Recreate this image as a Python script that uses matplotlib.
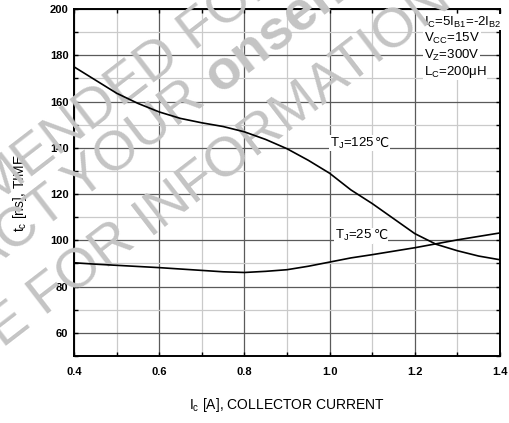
import matplotlib
matplotlib.use("Agg")
import matplotlib.pyplot as plt
from matplotlib.transforms import IdentityTransform
import numpy as np

plt.rcParams['font.family'] = ['Liberation Sans', 'DejaVu Sans']
plt.rcParams['mathtext.fontset'] = 'custom'
plt.rcParams['mathtext.rm'] = 'Liberation Sans'
plt.rcParams['mathtext.it'] = 'Liberation Sans'

# collector current [A]
ic = [0.40, 0.45, 0.50, 0.55, 0.60, 0.65, 0.70, 0.75, 0.80, 0.85, 0.90,
      0.95, 1.00, 1.05, 1.10, 1.15, 1.20, 1.25, 1.30, 1.35, 1.40]
# crossover time [ns] at TJ=125C
tc_125 = [175.0, 169.3, 163.6, 159.2, 155.5, 152.7, 150.8, 149.2, 146.9, 143.6, 139.6,
          134.6, 129.0, 121.8, 115.9, 109.4, 102.9, 98.3, 95.5, 93.2, 91.6]
# crossover time [ns] at TJ=25C
tc_25 = [90.3, 89.7, 89.2, 88.7, 88.2, 87.6, 87.0, 86.4, 86.1, 86.6, 87.3,
         88.8, 90.6, 92.4, 93.8, 95.3, 96.8, 98.5, 100.2, 101.7, 103.2]

x_ticks = [0.4, 0.6, 0.8, 1.0, 1.2, 1.4]
y_ticks = [60, 80, 100, 120, 140, 160, 180, 200]

fig = plt.figure(figsize=(5.10, 4.23), dpi=100)
W, H = 510.0, 423.0
ax = fig.add_axes([74 / W, 1 - 356 / H, 426 / W, 347 / H])

ax.set_xlim(0.4, 1.4)
ax.set_ylim(50, 200)
ax.set_xticks(x_ticks)
ax.set_xticks(np.arange(0.5, 1.4, 0.2), minor=True)
ax.set_yticks(y_ticks)
ax.set_yticks(np.arange(50, 200, 20), minor=True)
ax.set_xticklabels(['%.1f' % v for v in x_ticks], fontweight='bold', fontsize=8)
ax.set_yticklabels([str(v) for v in y_ticks], fontweight='bold', fontsize=8)
ax.tick_params(which='both', direction='in', length=3, width=1, top=True, right=True)
ax.tick_params(axis='x', pad=8)
ax.tick_params(axis='y', pad=4)

ax.grid(True, which='major', color='#5a5a5a', lw=0.9)
ax.grid(True, which='minor', color='#cacaca', lw=0.9)
ax.set_axisbelow(True)
for s in ax.spines.values():
    s.set_linewidth(1.4)

# curves
ax.plot(ic, tc_125, color='black', lw=1.2, zorder=6)
ax.plot(ic, tc_25, color='black', lw=1.2, zorder=6)

ax.set_xlabel(r'I$_\mathrm{c}$ [A], COLLECTOR CURRENT', fontsize=10)
ax.xaxis.set_label_coords(0.5, -0.115)
ax.set_ylabel(r't$_\mathrm{c}$ [ns], TIME', fontsize=10)
ax.yaxis.set_label_coords(-0.106, 0.47)

bbox = dict(facecolor='white', edgecolor='none', pad=0.5)
temp_labels = []
temp_labels.append(ax.text(1.0, 140.5, r'T$_\mathrm{J}$=125', fontsize=9.5, va='baseline',
                           ha='left', bbox=bbox, zorder=3))
temp_labels.append(ax.text(1.013, 100.5, r'T$_\mathrm{J}$=25', fontsize=9.5, va='baseline',
                           ha='left', bbox=bbox, zorder=3))
cond = [r'I$_\mathrm{C}$=5I$_\mathrm{B1}$=-2I$_\mathrm{B2}$',
        r'V$_\mathrm{CC}$=15V',
        r'V$_\mathrm{Z}$=300V',
        r'L$_\mathrm{C}$=200$\mu$H']
for i, line in enumerate(cond):
    ax.text(424 / W, 1 - (22 + i * 16.5) / H, line, transform=fig.transFigure,
            fontsize=9.5, va='center', ha='left', bbox=bbox, zorder=3)

# degree-Celsius sign drawn right after each temperature label
fig.canvas.draw()
for t in temp_labels:
    bb = t.get_window_extent()
    base = ax.transData.transform(t.get_position())
    ax.text(bb.x1 + 1, base[1], '℃', transform=IdentityTransform(), fontsize=9,
            family='DejaVu Sans', va='baseline', ha='left', bbox=bbox, zorder=3)

# watermark
wm = dict(transform=fig.transFigure, fontsize=40, color='#c4c4c4', rotation=37.6,
          rotation_mode='anchor', va='baseline', clip_on=False, zorder=5)
rows = [((195, 52), 'NOT RECOMMENDED ', 'FOR NEW DESIGN', 'normal'),
        ((220, 94), 'CONTACT YOUR ', 'onsemi', 'bold'),
        ((150, 236), 'REPRESENTATIVE FOR ', 'INFORMATION', 'normal')]
for (px, py), left, right, wt in rows:
    ax.text(px / W, 1 - py / H, left, ha='right', **wm)
    ax.text(px / W, 1 - py / H, right, ha='left', fontweight=wt, **wm)

fig.savefig('out.png', dpi=100)
